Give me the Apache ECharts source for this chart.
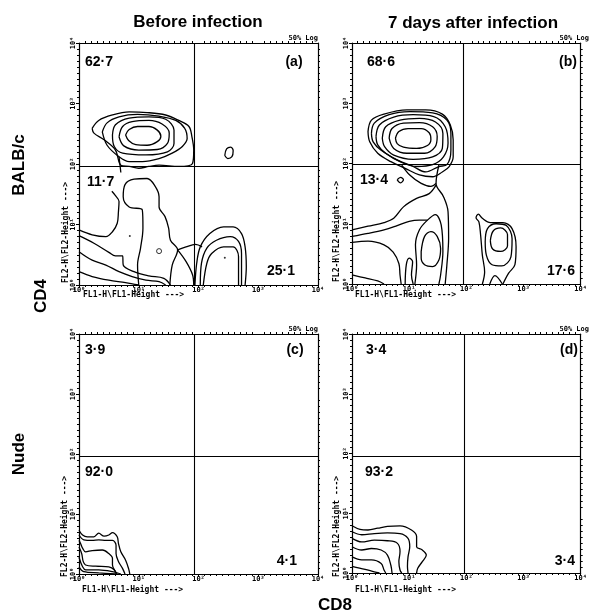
<!DOCTYPE html>
<html><head><meta charset="utf-8">
<script src="https://cdn.jsdelivr.net/npm/echarts@6/dist/echarts.min.js"></script>
<style>html,body{margin:0;padding:0;background:#fff}#c{width:590px;height:615px}</style>
</head><body><div id="c"></div><script>
// ---- values ----
const decadeTicks = [0, 1, 2, 3, 4];
const decadeLabels = ['10⁰', '10¹', '10²', '10³', '10⁴'];
const columnTitles = ['Before infection', '7 days after infection'];
const rowTitles = ['BALB/c', 'Nude'];
const axisTitleX = 'CD8';
const axisTitleY = 'CD4';
const panelLetters = ['(a)', '(b)', '(c)', '(d)'];
const upperLeftPct = ['62·7', '68·6', '3·9', '3·4'];
const lowerLeftPct = ['11·7', '13·4', '92·0', '93·2'];
const lowerRightPct = ['25·1', '17·6', '4·1', '3·4'];
const quadrantGateX = [1.93, 1.95, 1.93, 1.97];
const quadrantGateY = [1.97, 1.98, 1.96, 1.96];
const logLabel = '50% Log';
const fl1Label = 'FL1-H\\FL1-Height --->';
const fl2Label = 'FL2-H\\FL2-Height --->';

// contour lines, in decades (log10 of fluorescence)
const closedA = [
  [[0.78,2.48],[0.84,2.57],[0.98,2.62],[1.17,2.62],[1.31,2.56],[1.37,2.46],[1.31,2.37],[1.14,2.31],[0.95,2.32],[0.83,2.39]],
  [[0.67,2.45],[0.73,2.62],[0.89,2.70],[1.17,2.72],[1.39,2.66],[1.51,2.51],[1.48,2.34],[1.31,2.24],[1.00,2.23],[0.75,2.30]],
  [[0.56,2.48],[0.61,2.65],[0.84,2.76],[1.17,2.78],[1.45,2.74],[1.59,2.56],[1.59,2.34],[1.48,2.20],[1.12,2.15],[0.73,2.18],[0.59,2.29]],
  [[0.39,2.53],[0.47,2.68],[0.67,2.78],[0.98,2.82],[1.34,2.79],[1.62,2.72],[1.77,2.59],[1.81,2.42],[1.73,2.29],[1.56,2.18],[1.34,2.09],[1.06,2.04],[0.84,2.04],[0.67,2.12],[0.47,2.31]],
  [[0.22,2.59],[0.33,2.72],[0.56,2.81],[0.84,2.86],[1.14,2.85],[1.45,2.81],[1.67,2.72],[1.84,2.62],[1.89,2.45],[1.92,2.23],[1.90,2.01],[1.67,1.96],[1.34,1.98],[1.17,1.96],[1.00,1.93],[0.84,1.96],[0.70,1.98],[0.61,2.23],[0.42,2.40],[0.25,2.51]],
  [[2.44,2.14],[2.47,2.25],[2.54,2.28],[2.58,2.22],[2.56,2.12],[2.49,2.09]]
];
const openA = [
  [[1.00,0],[0.98,0.33],[1.03,0.61],[1.07,0.94],[1.06,1.24],[0.84,1.29],[0.74,1.46],[0.77,1.66],[0.92,1.75],[1.14,1.76],[1.27,1.64],[1.34,1.46],[1.34,1.29],[1.44,1.13],[1.50,0.94],[1.53,0.74],[1.65,0.58],[1.56,0.33],[1.52,0]],
  [[1.65,0.58],[1.79,0.63],[1.95,0.67],[2.06,0.63]],
  [[1.65,0.58],[1.79,0.39],[1.90,0.17],[1.92,0]],
  [[0,0.91],[0.22,0.83],[0.45,0.80],[0.56,0.88],[0.64,1.02],[0.66,1.21],[0.67,1.38],[0.60,1.49],[0.55,1.55]],
  [[0.67,2.12],[0.69,1.95],[0.70,1.86]],
  [[0,0.815],[0.25,0.69],[0.50,0.54],[0.61,0.48],[0.73,0.48],[0.74,0.33],[0.92,0.22],[1.17,0.15],[1.42,0.11],[1.53,0]],
  [[0,0.55],[0.22,0.41],[0.45,0.33],[0.67,0.22],[0.89,0.14],[1.12,0.08],[1.34,0.055],[1.45,0]],
  [[0,0.22],[0.22,0.14],[0.50,0.08],[0.78,0.04],[1.00,0]],
  [[1.94,0],[1.97,0.36],[2.03,0.63],[2.19,0.85],[2.42,0.96],[2.58,0.96],[2.72,0.85],[2.78,0.63],[2.80,0.30],[2.78,0]],
  [[2.03,0],[2.05,0.36],[2.14,0.61],[2.30,0.74],[2.53,0.80],[2.67,0.72],[2.72,0.52],[2.72,0]],
  [[2.08,0],[2.14,0.36],[2.22,0.52],[2.42,0.63],[2.58,0.63],[2.67,0.47],[2.67,0]]
];
const dotsA = [[0.85,0.81],[2.44,0.45]];
const ringsA = [[1.34,0.56]];

const closedB = [
  [[0.76,2.42],[0.82,2.53],[0.98,2.58],[1.21,2.58],[1.35,2.51],[1.38,2.40],[1.32,2.30],[1.13,2.25],[0.90,2.27],[0.79,2.33]],
  [[0.65,2.42],[0.70,2.58],[0.90,2.67],[1.18,2.68],[1.41,2.61],[1.49,2.45],[1.45,2.27],[1.27,2.17],[0.96,2.17],[0.73,2.25]],
  [[0.53,2.42],[0.59,2.61],[0.84,2.72],[1.18,2.75],[1.46,2.69],[1.59,2.50],[1.58,2.25],[1.41,2.11],[1.07,2.07],[0.73,2.14],[0.57,2.28]],
  [[0.42,2.45],[0.48,2.64],[0.73,2.77],[1.07,2.81],[1.43,2.78],[1.63,2.61],[1.68,2.34],[1.60,2.11],[1.41,1.98],[1.13,1.95],[0.84,2.03],[0.59,2.17],[0.45,2.31]],
  [[0.34,2.50],[0.39,2.67],[0.65,2.81],[1.01,2.86],[1.41,2.84],[1.66,2.72],[1.73,2.50],[1.73,2.22],[1.66,1.98],[1.52,1.95],[1.29,1.86],[1.07,1.95],[0.79,2.06],[0.51,2.22],[0.37,2.36]],
  [[0.28,2.53],[0.34,2.72],[0.56,2.82],[0.96,2.89],[1.29,2.89],[1.58,2.82],[1.72,2.64],[1.77,2.39],[1.77,2.11],[1.70,1.95],[1.58,1.86],[1.41,1.78],[1.18,1.81],[0.93,1.92],[0.68,2.03],[0.45,2.17],[0.31,2.36]],
  [[1.21,0.54],[1.27,0.79],[1.38,0.87],[1.49,0.79],[1.55,0.59],[1.52,0.40],[1.41,0.29],[1.27,0.32],[1.21,0.43]],
  [[2.33,0.70],[2.37,0.92],[2.52,1.00],[2.70,0.97],[2.80,0.75],[2.78,0.45],[2.62,0.30],[2.45,0.32],[2.35,0.48]],
  [[2.42,0.72],[2.47,0.88],[2.60,0.93],[2.72,0.82],[2.72,0.63],[2.60,0.54],[2.46,0.58]],
  [[0.79,1.73],[0.85,1.77],[0.90,1.73],[0.85,1.68]]
];
const openB = [
  [[0.87,1.975],[1.01,1.81],[1.21,1.67],[1.38,1.62],[1.47,1.67]],
  [[1.52,1.975],[1.47,1.67],[1.60,1.45],[1.68,1.20],[1.69,0.76],[1.66,0.32],[1.63,0]],
  [[1.10,0],[1.13,0.32],[1.11,0.65],[1.18,0.90],[1.32,1.06],[1.46,1.15],[1.56,0.98],[1.59,0.54],[1.55,0.15],[1.52,0]],
  [[0,0.90],[0.28,0.96],[0.56,1.02],[0.73,1.09],[0.90,1.28],[1.13,1.42],[1.35,1.50],[1.47,1.64]],
  [[0,0.79],[0.28,0.84],[0.56,0.90],[0.79,0.97],[1.00,1.04],[1.18,1.06],[1.32,1.06]],
  [[0,0.69],[0.28,0.71],[0.56,0.65],[0.72,0.53],[0.82,0.34],[0.84,0.15],[0.86,0]],
  [[0.93,0],[0.95,0.32],[1.00,0.43],[1.06,0.37],[1.04,0.15],[1.07,0]],
  [[0,0.15],[0.23,0.10],[0.45,0.05],[0.56,0]],
  [[2.28,0],[2.32,0.20],[2.28,0.48],[2.25,0.81],[2.22,1.03],[2.17,1.10],[2.21,1.16],[2.28,1.09],[2.42,1.02],[2.64,1.02],[2.80,0.92],[2.87,0.62],[2.85,0.32],[2.74,0.18],[2.64,0]],
  [[2.41,0],[2.50,0.14],[2.63,0]]
];

const openC = [
  [[0,0.73],[0.06,0.65],[0.14,0.62],[0.25,0.62],[0.33,0.68],[0.42,0.63],[0.50,0.65],[0.56,0.69],[0.64,0.62],[0.66,0.51],[0.70,0.37],[0.78,0.23],[0.83,0.09],[0.85,0]],
  [[0,0.65],[0.08,0.57],[0.22,0.56],[0.33,0.57],[0.45,0.56],[0.56,0.56],[0.62,0.48],[0.62,0.34],[0.66,0.21],[0.73,0.09],[0.77,0]],
  [[0,0.56],[0.03,0.50],[0.06,0.43],[0.11,0.37],[0.22,0.39],[0.39,0.40],[0.50,0.34],[0.56,0.26],[0.56,0.15],[0.61,0.04],[0.64,0]],
  [[0,0.45],[0.045,0.34],[0.07,0.21],[0.11,0.15],[0.28,0.13],[0.50,0.12],[0.59,0.07],[0.62,0]],
  [[0,0.28],[0.06,0.12],[0.11,0.07],[0.33,0.07],[0.56,0.04],[0.70,0]],
  [[0,0.12],[0.08,0.04],[0.33,0.02],[0.61,0]]
];
const openD = [
  [[0,0.79],[0.14,0.73],[0.28,0.72],[0.45,0.75],[0.62,0.78],[0.84,0.79],[1.04,0.72],[1.13,0.61],[1.13,0.44],[1.23,0.385],[1.30,0.30],[1.23,0.19],[1.15,0.08],[1.13,0]],
  [[0,0.69],[0.17,0.64],[0.39,0.66],[0.62,0.67],[0.84,0.66],[0.98,0.58],[1.01,0.44],[0.98,0.27],[0.97,0.11],[0.98,0]],
  [[0,0.58],[0.17,0.52],[0.39,0.55],[0.62,0.54],[0.79,0.50],[0.84,0.36],[0.82,0.19],[0.84,0.05],[0.87,0]],
  [[0,0.44],[0.17,0.385],[0.34,0.41],[0.51,0.385],[0.62,0.30],[0.68,0.13],[0.70,0]],
  [[0,0.27],[0.17,0.22],[0.34,0.22],[0.51,0.16],[0.56,0.05],[0.59,0]],
  [[0,0.11],[0.23,0.06],[0.39,0.02],[0.48,0]]
];

const panelClosed = [closedA, closedB, [], []];
const panelOpen = [openA, openB, openC, openD];
const panelDots = [dotsA, [], [], []];
const panelRings = [ringsA, [], [], []];

// ---- layout ----
const grids = [
  {left: 79, top: 43, width: 239, height: 242},
  {left: 352, top: 43, width: 237, height: 241},
  {left: 79, top: 334, width: 239, height: 240},
  {left: 352, top: 334, width: 237, height: 239}
];
const textPos = [
  {ul: [85, 62], let: [294, 62], ll: [87, 182], lr: [295, 271]},
  {ul: [367, 62], let: [568, 62], ll: [360, 180], lr: [575, 271]},
  {ul: [85, 350], let: [295, 350], ll: [85, 472], lr: [297, 561]},
  {ul: [366, 350], let: [569, 350], ll: [365, 472], lr: [575, 561]}
];
const fl1Pos = [[83, 295], [355, 295], [82, 590], [355, 590]];
const fl2Pos = [[66, 283], [337, 282], [65, 577], [337, 577]];

const chart = echarts.init(document.getElementById('c'), null, {renderer: 'canvas'});
const mono = 'DejaVu Sans Mono';
const sans = 'Liberation Sans';
const xAxes = [], yAxes = [], series = [], graphics = [];

grids.forEach((g, i) => {
  const base = {
    gridIndex: i, type: 'value', min: decadeTicks[0], max: decadeTicks[decadeTicks.length - 1], interval: 1,
    splitLine: {show: false},
    axisLine: {show: true, onZero: false, lineStyle: {color: '#000', width: 1.2}},
    axisTick: {show: true, length: 3, lineStyle: {color: '#000'}},
    minorTick: {show: true, splitNumber: 10, length: 2, lineStyle: {color: '#000'}}
  };
  xAxes.push(Object.assign({}, base, {
    position: 'bottom',
    axisLabel: {show: true, margin: 2, fontSize: 7, fontFamily: mono, fontWeight: 'bold', color: '#000',
      formatter: v => decadeLabels[decadeTicks.indexOf(v)] || ''}
  }));
  xAxes.push(Object.assign({}, base, {position: 'top', axisLabel: {show: false},
    axisTick: {show: false}, minorTick: {show: true, splitNumber: 10, length: 2, lineStyle: {color: '#000'}}}));
  yAxes.push(Object.assign({}, base, {
    position: 'left',
    axisLabel: {show: true, margin: 2, rotate: 90, fontSize: 7, fontFamily: mono, fontWeight: 'bold', color: '#000',
      formatter: v => decadeLabels[decadeTicks.indexOf(v)] || ''}
  }));
  yAxes.push(Object.assign({}, base, {position: 'right', axisLabel: {show: false},
    axisTick: {show: false}, minorTick: {show: true, splitNumber: 10, length: 2, lineStyle: {color: '#000'}}}));

  const xi = i * 2, yi = i * 2;
  const lineBase = {
    type: 'line', xAxisIndex: xi, yAxisIndex: yi, symbol: 'none', smooth: 0.35,
    lineStyle: {color: '#000', width: 1.3}, silent: true, animation: false, clip: true
  };
  // quadrant gate
  series.push(Object.assign({}, lineBase, {
    data: [],
    markLine: {silent: true, symbol: 'none', animation: false, label: {show: false},
      lineStyle: {color: '#000', type: 'solid', width: 1.1},
      data: [{xAxis: quadrantGateX[i]}, {yAxis: quadrantGateY[i]}]}
  }));
  panelClosed[i].forEach(c => series.push(Object.assign({}, lineBase, {data: c.concat([c[0]])})));
  panelOpen[i].forEach(c => series.push(Object.assign({}, lineBase, {data: c})));
  if (panelDots[i].length) series.push({type: 'scatter', xAxisIndex: xi, yAxisIndex: yi, data: panelDots[i],
    symbolSize: 2, itemStyle: {color: '#000'}, silent: true, animation: false});
  if (panelRings[i].length) series.push({type: 'scatter', xAxisIndex: xi, yAxisIndex: yi, data: panelRings[i],
    symbolSize: 5, itemStyle: {color: '#fff', borderColor: '#000', borderWidth: 1}, silent: true, animation: false});

  const t = textPos[i];
  const big = {fontSize: 14, fontWeight: 'bold', fontFamily: sans, fill: '#000', textVerticalAlign: 'middle'};
  graphics.push({type: 'text', x: t.ul[0], y: t.ul[1], style: Object.assign({text: upperLeftPct[i], textAlign: 'left'}, big)});
  graphics.push({type: 'text', x: t.let[0], y: t.let[1], style: Object.assign({text: panelLetters[i], textAlign: 'center'}, big)});
  graphics.push({type: 'text', x: t.ll[0], y: t.ll[1], style: Object.assign({text: lowerLeftPct[i], textAlign: 'left'}, big)});
  graphics.push({type: 'text', x: t.lr[0], y: t.lr[1], style: Object.assign({text: lowerRightPct[i], textAlign: 'right'}, big)});
  graphics.push({type: 'text', x: g.left + g.width, y: g.top - 1, style: {text: logLabel, textAlign: 'right',
    textVerticalAlign: 'bottom', fontSize: 7, fontFamily: mono, fontWeight: 'bold', fill: '#000'}});
  graphics.push({type: 'text', x: fl1Pos[i][0], y: fl1Pos[i][1], style: {text: fl1Label, textAlign: 'left',
    textVerticalAlign: 'middle', fontSize: 8, fontFamily: mono, fontWeight: 'bold', fill: '#000'}});
  graphics.push({type: 'text', x: fl2Pos[i][0], y: fl2Pos[i][1], rotation: Math.PI / 2, style: {text: fl2Label,
    textAlign: 'left', textVerticalAlign: 'middle', fontSize: 8, fontFamily: mono, fontWeight: 'bold', fill: '#000'}});
});

const head = {fontSize: 17, fontWeight: 'bold', fontFamily: sans, fill: '#000', textAlign: 'center', textVerticalAlign: 'middle'};
graphics.push({type: 'text', x: 198, y: 22, style: Object.assign({text: columnTitles[0]}, head)});
graphics.push({type: 'text', x: 473, y: 23, style: Object.assign({text: columnTitles[1]}, head)});
const side = {fontSize: 17, fontWeight: 'bold', fontFamily: sans, fill: '#000', textAlign: 'center', textVerticalAlign: 'middle'};
graphics.push({type: 'text', x: 19, y: 165, rotation: Math.PI / 2, style: Object.assign({text: rowTitles[0]}, side)});
graphics.push({type: 'text', x: 19, y: 454, rotation: Math.PI / 2, style: Object.assign({text: rowTitles[1]}, side)});
graphics.push({type: 'text', x: 41, y: 296, rotation: Math.PI / 2, style: Object.assign({text: axisTitleY}, side)});
graphics.push({type: 'text', x: 335, y: 605, style: Object.assign({text: axisTitleX}, side)});

chart.setOption({
  backgroundColor: '#fff',
  animation: false,
  grid: grids.map(g => Object.assign({containLabel: false}, g)),
  xAxis: xAxes,
  yAxis: yAxes,
  series: series,
  graphic: {elements: graphics}
});
</script></body></html>
